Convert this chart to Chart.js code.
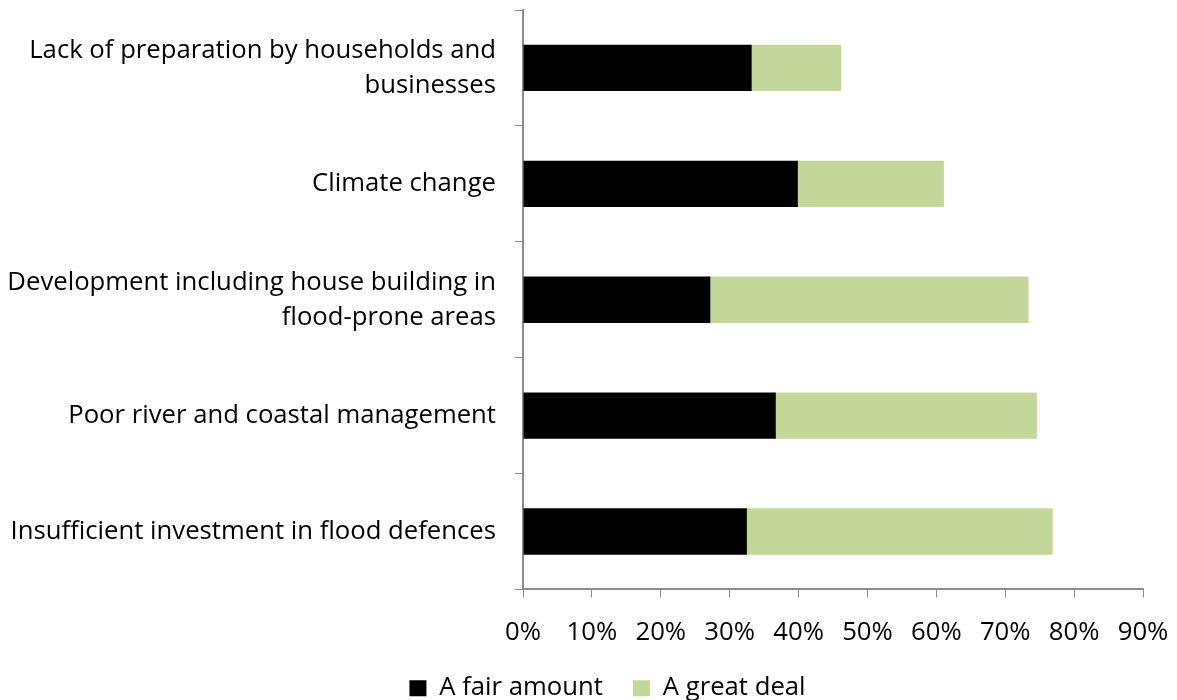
<!DOCTYPE html>
<html>
<head>
<meta charset="utf-8">
<script src="https://cdn.jsdelivr.net/npm/chart.js@4/dist/chart.umd.min.js"></script>
<style>
  html, body { margin: 0; padding: 0; background: #fff; }
</style>
</head>
<body>
<canvas id="chartCauses" width="1177" height="700"></canvas>
<script>
const CATEGORIES = [
  ['Lack of preparation by households and', 'businesses'],
  'Climate change',
  ['Development including house building in', 'flood-prone areas'],
  'Poor river and coastal management',
  'Insufficient investment in flood defences'
];
const FAIR_AMOUNT = [33.2, 39.9, 27.2, 36.7, 32.5];
const GREAT_DEAL  = [13.0, 21.2, 46.2, 37.9, 44.4];
const X_TICKS = [0, 10, 20, 30, 40, 50, 60, 70, 80, 90];

const AXIS_GREY = '#8c8c8c';
const FONT = { family: 'Open Sans, Noto Sans, sans-serif', size: 25.7 };

// nudge the bottom legend to the right so it sits under the bars
const legendShift = {
  id: 'legendShift',
  afterLayout(chart) {
    const lg = chart.legend;
    if (!lg) return;
    lg.left += 36;
    lg.right += 36;
  }
};

const ctx = document.getElementById('chartCauses').getContext('2d');
new Chart(ctx, {
  type: 'bar',
  data: {
    labels: CATEGORIES,
    datasets: [
      { label: 'A fair amount', data: FAIR_AMOUNT, backgroundColor: '#000000', barPercentage: 0.4, categoryPercentage: 1 },
      { label: 'A great deal',  data: GREAT_DEAL,  backgroundColor: '#c4d79b', barPercentage: 0.4, categoryPercentage: 1 }
    ]
  },
  plugins: [legendShift],
  options: {
    indexAxis: 'y',
    responsive: false,
    animation: false,
    layout: { padding: { left: 0, right: 34, top: 10, bottom: -11 } },
    plugins: {
      legend: {
        position: 'bottom',
        labels: {
          color: '#000', font: FONT, boxWidth: 17, boxHeight: 16, padding: 30
        }
      },
      tooltip: { enabled: false }
    },
    scales: {
      x: {
        stacked: true,
        min: 0, max: 90,
        afterBuildTicks: (axis) => { axis.ticks = X_TICKS.map(v => ({ value: v })); },
        afterFit: (axis) => { axis.paddingLeft = 0; axis.paddingRight = 0; axis.height -= 23; },
        ticks: { color: '#000', font: FONT, padding: 20, callback: v => v + '%' },
        grid: { drawOnChartArea: false, drawTicks: true, tickLength: 8, color: AXIS_GREY },
        border: { color: AXIS_GREY, width: 2 }
      },
      y: {
        stacked: true,
        afterFit: (axis) => { axis.width = 523; axis.paddingTop = 0; axis.paddingBottom = 0; },
        ticks: { color: '#000', font: { ...FONT, lineHeight: 1.36 }, padding: 19, autoSkip: false },
        grid: { offset: true, drawOnChartArea: false, drawTicks: true, tickLength: 8, color: AXIS_GREY },
        border: { color: AXIS_GREY, width: 2 }
      }
    }
  }
});
</script>
</body>
</html>
